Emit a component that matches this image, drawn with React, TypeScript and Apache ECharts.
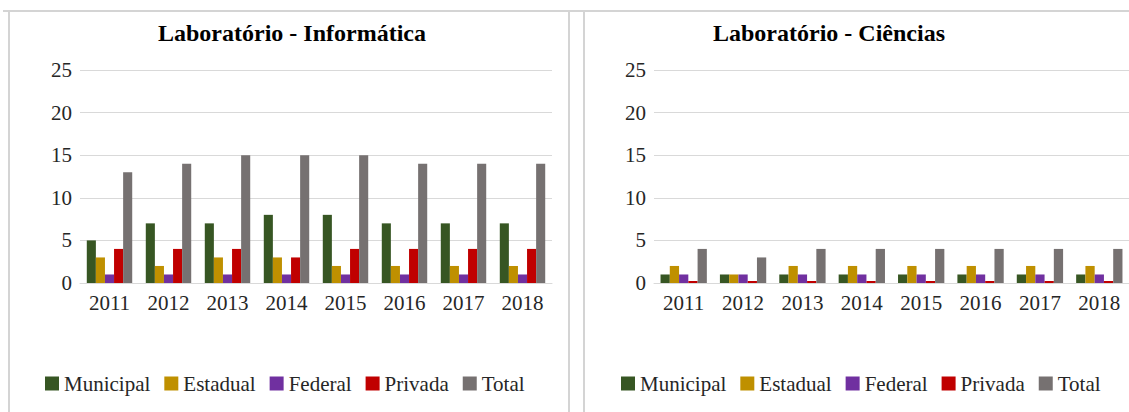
import React, { useEffect, useRef } from "react";
import * as echarts from "echarts";

const years = ["2011", "2012", "2013", "2014", "2015", "2016", "2017", "2018"];
const seriesNames = ["Municipal", "Estadual", "Federal", "Privada", "Total"];
const colors = ["#375623", "#BF9000", "#7030A0", "#C00000", "#767171"];

const infMunicipal = [5, 7, 7, 8, 8, 7, 7, 7];
const infEstadual = [3, 2, 3, 3, 2, 2, 2, 2];
const infFederal = [1, 1, 1, 1, 1, 1, 1, 1];
const infPrivada = [4, 4, 4, 3, 4, 4, 4, 4];
const infTotal = [13, 14, 15, 15, 15, 14, 14, 14];

const ciMunicipal = [1, 1, 1, 1, 1, 1, 1, 1];
const ciEstadual = [2, 1, 2, 2, 2, 2, 2, 2];
const ciFederal = [1, 1, 1, 1, 1, 1, 1, 1];
const ciPrivada = [0, 0, 0, 0, 0, 0, 0, 0];
const ciTotal = [4, 3, 4, 4, 4, 4, 4, 4];

const yTicks = { min: 0, max: 25, interval: 5 };
const titles = ["Laboratório - Informática", "Laboratório - Ciências"];

const FONT = '"Liberation Serif", "Times New Roman", serif';
const TEXT = "#262626";
const BORDER = "#d4d4d4";

export default function App() {
  const ref = useRef<HTMLDivElement>(null);

  useEffect(() => {
    if (!ref.current) return;
    const chart = echarts.init(ref.current, undefined, { renderer: "svg" });

    const infData = [infMunicipal, infEstadual, infFederal, infPrivada, infTotal];
    const ciData = [ciMunicipal, ciEstadual, ciFederal, ciPrivada, ciTotal];

    const makeX = (gridIndex: number) => ({
      type: "category",
      gridIndex,
      data: years,
      axisLine: { show: true, lineStyle: { color: "#d9d9d9", width: 1 } },
      axisTick: { show: false },
      axisLabel: { color: TEXT, fontFamily: FONT, fontSize: 21, margin: 9 },
    });
    const makeY = (gridIndex: number) => ({
      type: "value",
      gridIndex,
      min: yTicks.min,
      max: yTicks.max,
      interval: yTicks.interval,
      axisLine: { show: false },
      axisTick: { show: false },
      axisLabel: { color: TEXT, fontFamily: FONT, fontSize: 21, margin: 8 },
      splitLine: { lineStyle: { color: "#d9d9d9", width: 1 } },
    });

    const series: any[] = [];
    seriesNames.forEach((name, i) => {
      series.push({
        name,
        type: "bar",
        xAxisIndex: 0,
        yAxisIndex: 0,
        data: infData[i],
        itemStyle: { color: colors[i] },
        barGap: "0%",
        barCategoryGap: "23%",
      });
    });
    seriesNames.forEach((name, i) => {
      series.push({
        name,
        type: "bar",
        xAxisIndex: 1,
        yAxisIndex: 1,
        data: ciData[i],
        itemStyle: { color: colors[i] },
        barGap: "0%",
        barCategoryGap: "22%",
        barMinHeight: name === "Privada" ? 2 : 0,
      });
    });

    const legendBase = {
      data: seriesNames,
      icon: "rect",
      itemWidth: 14,
      itemHeight: 14,
      itemGap: 14,
      top: 373,
      padding: 0,
      selectedMode: false,
      textStyle: { color: TEXT, fontFamily: FONT, fontSize: 21, padding: [0, 0, 0, 0] },
    };

    chart.setOption({
      animation: false,
      backgroundColor: "#ffffff",
      title: [
        {
          text: titles[0],
          left: 158,
          top: 21,
          padding: 0,
          textStyle: { fontFamily: FONT, fontSize: 24, fontWeight: "bold", color: "#000" },
        },
        {
          text: titles[1],
          left: 713,
          top: 21,
          padding: 0,
          textStyle: { fontFamily: FONT, fontSize: 24, fontWeight: "bold", color: "#000" },
        },
      ],
      legend: [
        { ...legendBase, left: 45 },
        { ...legendBase, left: 621 },
      ],
      grid: [
        { left: 80, top: 70, width: 472, height: 213 },
        { left: 654, top: 70, width: 476, height: 213 },
      ],
      xAxis: [makeX(0), makeX(1)],
      yAxis: [makeY(0), makeY(1)],
      series,
      graphic: [
        { type: "line", shape: { x1: 3, y1: 11, x2: 1129, y2: 11 }, style: { stroke: BORDER, lineWidth: 2 } },
        { type: "line", shape: { x1: 9, y1: 11, x2: 9, y2: 412 }, style: { stroke: BORDER, lineWidth: 2 } },
        { type: "line", shape: { x1: 569, y1: 11, x2: 569, y2: 412 }, style: { stroke: BORDER, lineWidth: 2 } },
        { type: "line", shape: { x1: 584, y1: 11, x2: 584, y2: 412 }, style: { stroke: BORDER, lineWidth: 2 } },
      ],
    });

    return () => chart.dispose();
  }, []);

  return (
    <div
      ref={ref}
      style={{ position: "absolute", left: 0, top: 0, width: 1129, height: 412 }}
    />
  );
}
